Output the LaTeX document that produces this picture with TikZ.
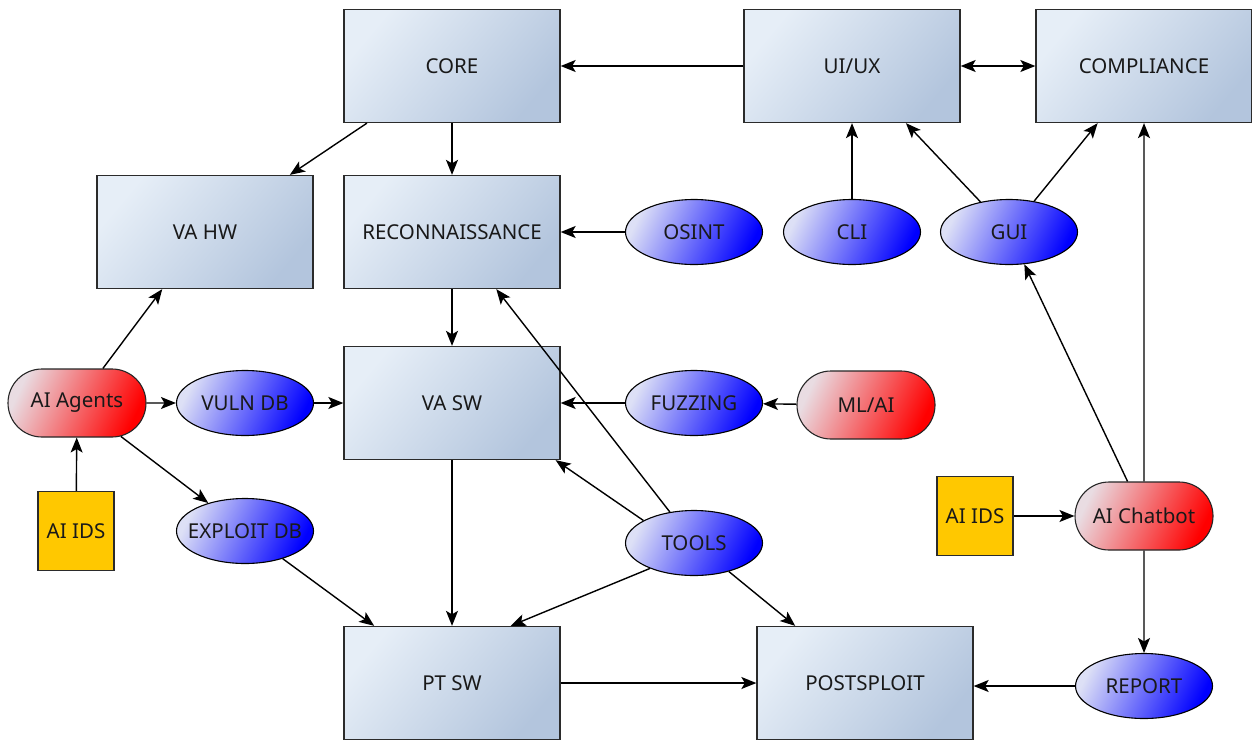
\documentclass[tikz,border=0pt]{standalone}
\usepackage{fontspec}
\setmainfont{Noto Sans}
\usetikzlibrary{shapes.geometric,shapes.misc,arrows.meta}
\definecolor{boxA}{HTML}{E6EEF7}
\definecolor{boxB}{HTML}{B3C5DD}
\definecolor{ellA}{HTML}{DDE0F6}
\definecolor{ellB}{HTML}{0000FF}
\definecolor{pillA}{HTML}{E9DCE2}
\definecolor{pillB}{HTML}{FF0000}
\definecolor{idsY}{HTML}{FFC800}
\definecolor{edge}{HTML}{2B2B2B}
\newcommand\ellt[1]{\makebox[60pt]{#1}}
\tikzset{
  lbl/.style={font=\fontsize{20.5}{24}\selectfont, text=black!90},
  box/.style={lbl, rectangle, draw=edge, line width=1.3pt, minimum width=216pt, minimum height=113pt,
    top color=boxA, bottom color=boxB, shading angle=50},
  ell/.style={lbl, ellipse, draw=black, line width=1.1pt, minimum width=137pt, minimum height=65pt, inner sep=0pt,
    top color=ellA, bottom color=ellB, shading angle=65},
  pill/.style={lbl, rounded rectangle, draw=black!85, line width=1.1pt, minimum width=138pt, minimum height=68pt, inner sep=0pt,
    top color=pillA, bottom color=pillB, shading angle=65},
  ids/.style={lbl, rectangle, draw=edge, line width=1.1pt, fill=idsY, minimum width=76pt, minimum height=79pt, inner sep=0pt},
  arr/.style={draw=black, line width=1.4pt, -{Stealth[length=15pt,width=12pt,inset=3.5pt]}},
  darr/.style={draw=black, line width=1.4pt, {Stealth[length=15pt,width=12pt,inset=3.5pt]}-{Stealth[length=15pt,width=12pt,inset=3.5pt]}}
}
\begin{document}
\begin{tikzpicture}[x=1pt,y=-1pt]
\useasboundingbox[fill=white] (0,0) rectangle (1252,740);
% boxes
\node[box] (core) at (452,66) {CORE};
\node[box] (uiux) at (852,66) {UI/UX};
\node[box] (comp) at (1144,66) {COMPLIANCE};
\node[box] (vahw) at (205,232) {VA HW};
\node[box] (recon) at (452,232) {RECONNAISSANCE};
\node[box] (vasw) at (452,403) {VA SW};
\node[box] (ptsw) at (452,683) {PT SW};
\node[box] (post) at (865,683) {POSTSPLOIT};
% ellipses
\node[ell] (osint) at (694,232) {\ellt{OSINT}};
\node[ell] (cli) at (852,232) {\ellt{CLI}};
\node[ell] (gui) at (1009,232) {\ellt{GUI}};
\node[ell] (vuln) at (245,403) {\ellt{VULN DB}};
\node[ell] (fuzz) at (694,403) {\ellt{FUZZING}};
\node[ell] (expl) at (245,531) {\ellt{EXPLOIT DB}};
\node[ell] (tools) at (694,543) {\ellt{TOOLS}};
\node[ell] (report) at (1144,686) {\ellt{REPORT}};
% pills
\node[pill] (agents) at (77,403) {AI Agents};
\node[pill] (mlai) at (866,405) {ML/AI};
\node[pill] (chat) at (1144,516) {AI Chatbot};
% ids
\node[ids] (idsl) at (76,531) {AI IDS};
\node[ids] (idsr) at (975,516) {AI IDS};
% connectors
\draw[arr] (uiux) -- (core);
\draw[darr] (uiux) -- (comp);
\draw[arr] (core) -- (vahw);
\draw[arr] (core) -- (recon);
\draw[arr] (osint) -- (recon);
\draw[arr] (cli) -- (uiux);
\draw[arr] (gui) -- (uiux);
\draw[arr] (gui) -- (comp);
\draw[arr] (chat) -- (comp);
\draw[arr] (chat) -- (gui);
\draw[arr] (recon) -- (vasw);
\draw[arr] (tools) -- (recon);
\draw[arr] (tools.156) -- ([xshift=-5pt]vasw.south east);
\draw[arr] (agents) -- (vahw);
\draw[arr] (agents) -- (vuln);
\draw[arr] (vuln) -- (vasw);
\draw[arr] (fuzz) -- (vasw);
\draw[arr] (mlai) -- (fuzz);
\draw[arr] (idsl) -- (agents);
\draw[arr] (agents) -- (expl);
\draw[arr] (expl) -- (ptsw);
\draw[arr] (vasw) -- (ptsw);
\draw[arr] (tools.210) -- ([xshift=-50pt]ptsw.north east);
\draw[arr] (tools) -- (post);
\draw[arr] (ptsw) -- (post);
\draw[arr] (report.west) -- (report.west -| post.east);
\draw[arr] (idsr) -- (chat);
\draw[arr] (chat) -- (report);
\end{tikzpicture}
\end{document}
